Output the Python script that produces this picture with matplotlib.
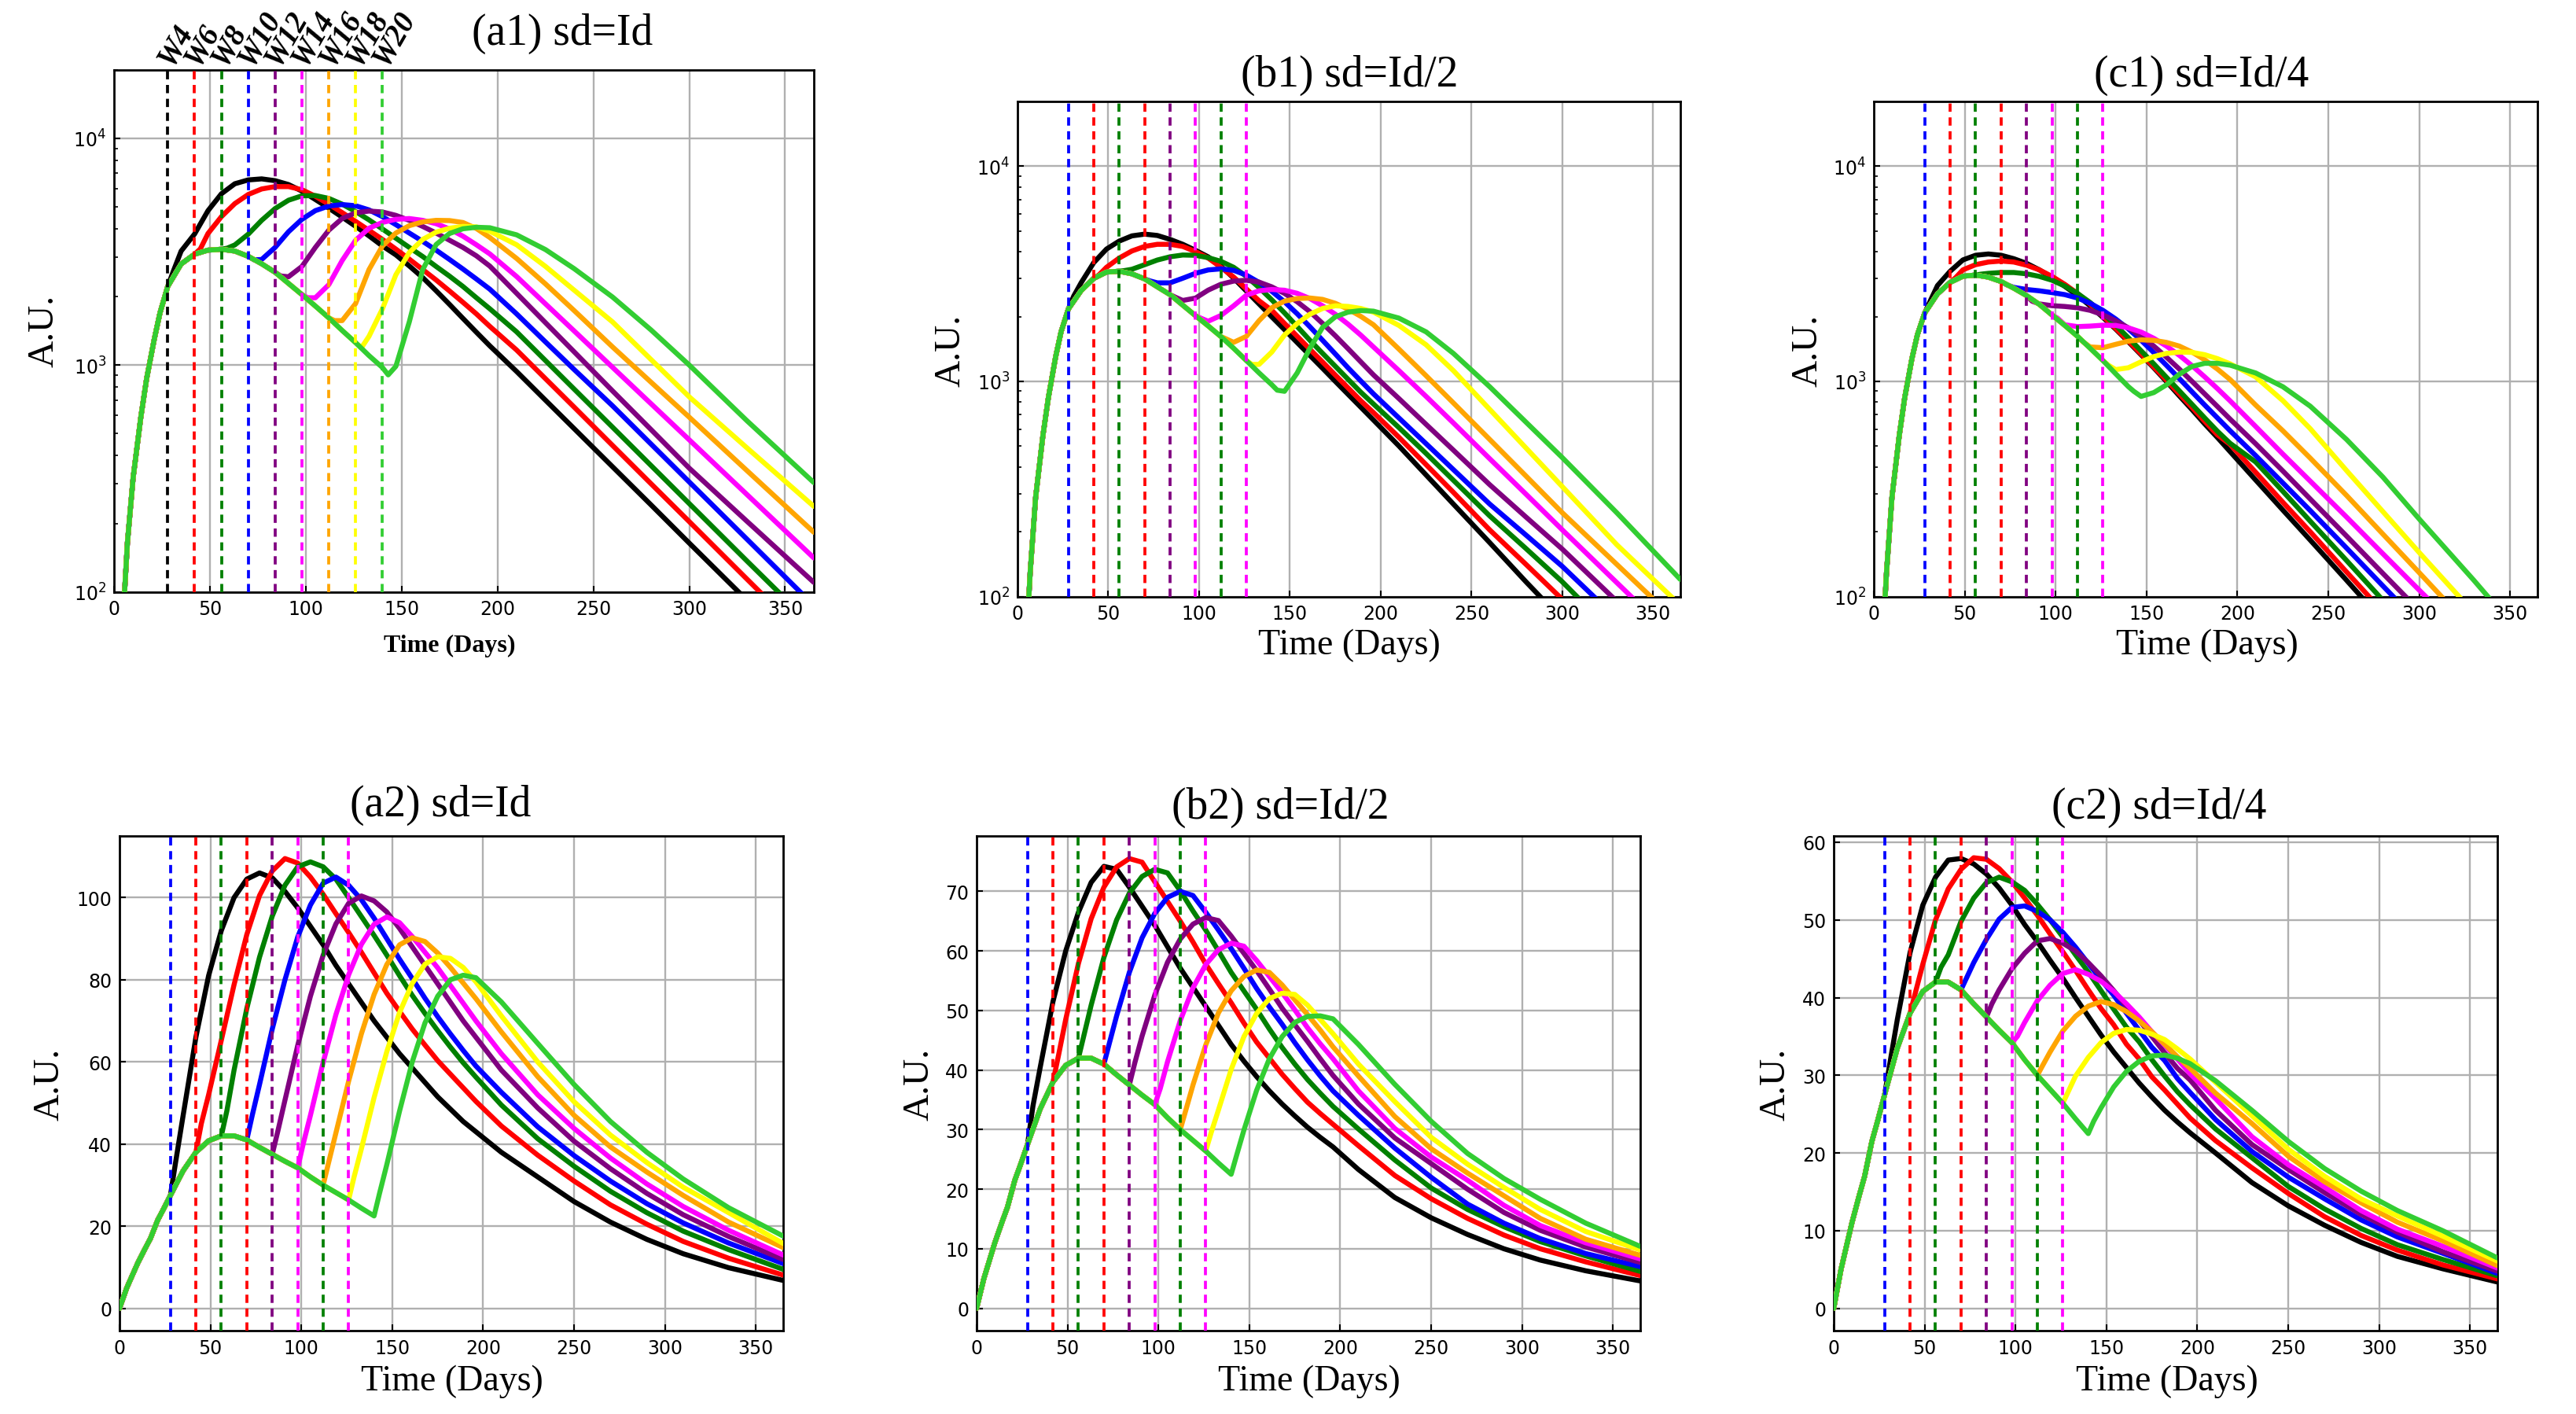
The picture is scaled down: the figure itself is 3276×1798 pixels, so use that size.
import matplotlib
matplotlib.use("Agg")
import matplotlib.pyplot as plt
from matplotlib.transforms import blended_transform_factory

# ---------------- shared grids / labels ----------------
DAYS1 = [0, 2, 4, 7, 10, 14, 17, 21, 24, 28, 35, 42, 49, 56, 63, 70, 77, 84, 91, 98,
         105, 112, 119, 126, 133, 140, 147, 154, 161, 168, 175, 182, 189, 196,
         210, 225, 240, 260, 280, 300, 330, 365]
DAYS2 = DAYS1[:34] + [210, 230, 250, 270, 290, 310, 335, 365]
BOOST_DAYS = [28, 42, 56, 70, 84, 98, 112, 126, 140]
WEEK_LABELS = ["W4", "W6", "W8", "W10", "W12", "W14", "W16", "W18", "W20"]
CURVE_COLORS = ["black", "red", "green", "blue", "purple", "magenta", "orange", "yellow", "limegreen"]
DASH_DAYS = [28, 42, 56, 70, 84, 98, 112, 126]
DASH_COLORS = ["blue", "red", "green", "red", "purple", "magenta", "green", "magenta"]
X_TICKS = [0, 50, 100, 150, 200, 250, 300, 350]

# ---------------- (a1) sd=Id, log scale ----------------
a1_base = [5, 25, 60, 165, 320, 590, 870, 1300, 1700, 2220, 2790, 3080, 3210, 3240, 3180, 3015,
           2795, 2565, 2290, 2045, 1820, 1615, 1420, 1255, 1100, 975]
a1_d3 = [2600, 3250, 3275, 2910, 2470, 1980, 1570, 1190, 905]
a1_black = [3180, 3780, 4790, 5690, 6300, 6550, 6620, 6500, 6250, 5850, 5370, 4920, 4490, 4090, 3710,
            3350, 3060, 2735, 2430, 2125, 1850, 1605, 1395, 1215, 936, 700, 524, 356, 242, 164, 92, 46]
a1_red = [3800, 4510, 5150, 5650, 5975, 6120, 6120, 5930, 5550, 5120, 4700, 4300, 3925, 3580, 3245,
          2930, 2636, 2371, 2120, 1890, 1680, 1480, 1164, 871, 652, 442, 300, 204, 114, 58]
a1_green = [3385, 3775, 4345, 4895, 5330, 5575, 5590, 5430, 5120, 4750, 4365, 3980, 3625, 3300, 3010,
            2720, 2465, 2220, 1980, 1770, 1400, 1047, 783, 532, 361, 245, 137, 70]
a1_blue = [2920, 3300, 3870, 4390, 4795, 5025, 5100, 5040, 4830, 4510, 4160, 3820, 3510, 3210, 2920,
           2650, 2395, 2160, 1680, 1265, 955, 661, 449, 305, 171, 87]
a1_purple = [2450, 2720, 3300, 3930, 4430, 4690, 4775, 4730, 4570, 4345, 4085, 3820, 3550, 3300, 3030,
             2730, 2070, 1538, 1143, 769, 520, 351, 205, 110]
a1_magenta = [1980, 2260, 2890, 3550, 4010, 4255, 4390, 4425, 4345, 4200, 3980, 3700, 3390, 3090,
              2455, 1862, 1413, 977, 676, 468, 269, 141]
a1_orange = [1570, 1866, 2636, 3350, 3820, 4117, 4277, 4345, 4335, 4250, 4000, 3650,
             2950, 2280, 1738, 1202, 841, 589, 343, 183]
a1_yellow = [1339, 1770, 2500, 3135, 3580, 3855, 4010, 4085, 4065, 3890,
             3390, 2723, 2138, 1549, 1059, 724, 432, 238]
a1_lime = [987, 1549, 2636, 3398, 3802, 3990, 4050, 4030, 3750, 3230, 2660, 1995, 1430, 1000, 569, 303]

# ---------------- (b1) sd=Id/2, log scale ----------------
b1_base = [4, 18, 45, 130, 290, 560, 840, 1300, 1700, 2170, 2640, 3010, 3220, 3250, 3160, 2995,
           2750, 2530, 2260, 2020, 1810, 1615, 1425, 1250, 1095, 965]
b1_d3 = [2495, 3133, 3274, 2930, 2460, 1966, 1574, 1199, 910]
b1_black = [2870, 3565, 4120, 4487, 4745, 4835, 4765, 4570, 4335, 4065, 3790, 3430, 3020, 2630, 2290,
            1995, 1740, 1515, 1320, 1150, 1000, 871, 759, 661, 501, 367, 269, 178, 117, 78, 42, 20]
b1_red = [3389, 3742, 4037, 4238, 4335, 4335, 4238, 4010, 3742, 3389, 3055, 2690, 2370, 2140, 1860,
          1620, 1410, 1230, 1070, 933, 813, 716, 550, 410, 305, 204, 141, 97, 52, 25]
b1_green = [3319, 3485, 3664, 3793, 3866, 3855, 3758, 3614, 3390, 3077, 2729, 2393, 2081, 1799, 1552,
            1349, 1175, 1023, 891, 785, 610, 462, 347, 237, 167, 117, 65, 33]
b1_blue = [2870, 2870, 3015, 3178, 3296, 3334, 3281, 3119, 2884, 2623, 2344, 2061, 1794, 1552, 1341,
           1156, 1005, 875, 676, 513, 389, 269, 193, 138, 79, 41]
b1_purple = [2377, 2438, 2655, 2827, 2924, 2951, 2893, 2750, 2564, 2344, 2108, 1858, 1630, 1419, 1233,
             1072, 832, 631, 479, 331, 234, 166, 95, 50]
b1_magenta = [1903, 2024, 2244, 2514, 2636, 2673, 2652, 2566, 2426, 2244, 2051, 1845, 1641, 1445,
              1122, 851, 641, 437, 299, 204, 116, 60]
b1_orange = [1518, 1618, 1914, 2200, 2360, 2427, 2440, 2404, 2306, 2167, 2006, 1833,
             1413, 1062, 794, 537, 363, 245, 141, 74]
b1_yellow = [1199, 1368, 1641, 1858, 2051, 2182, 2245, 2230, 2182, 2099,
             1820, 1479, 1122, 741, 490, 324, 174, 91]
b1_lime = [899, 1094, 1426, 1782, 1995, 2098, 2134, 2120, 1968, 1698, 1349, 944, 646, 442, 245, 120]

# ---------------- (c1) sd=Id/4, log scale ----------------
c1_base = [4, 18, 45, 130, 290, 560, 840, 1280, 1650, 2080, 2550, 2885, 3080, 3120, 3050, 2910,
           2710, 2505, 2280, 2035, 1820, 1620, 1425, 1250, 1085, 945]
c1_d3 = [2360, 3034, 3150, 2812, 2360, 1968, 1529, 1189, 899]
c1_black = [2786, 3250, 3668, 3856, 3909, 3856, 3716, 3537, 3300, 3033, 2766, 2508, 2243, 1983, 1750,
            1528, 1329, 1156, 997, 857, 739, 634, 548, 471, 348, 252, 183, 119, 77, 50, 26, 12]
c1_red = [3298, 3487, 3586, 3625, 3586, 3467, 3298, 3076, 2826, 2563, 2281, 2010, 1762, 1541, 1341,
          1166, 1011, 874, 757, 652, 564, 509, 378, 274, 200, 130, 85, 56, 29, 14]
c1_green = [3177, 3206, 3206, 3162, 3076, 2951, 2775, 2565, 2325, 2069, 1823, 1595, 1387, 1206, 1043,
            904, 782, 676, 586, 515, 422, 308, 224, 147, 96, 63, 33, 16]
c1_blue = [2735, 2673, 2636, 2586, 2531, 2440, 2306, 2139, 1950, 1754, 1552, 1360, 1186, 1031, 894,
           776, 676, 589, 452, 337, 251, 168, 112, 75, 41, 20]
c1_purple = [2291, 2248, 2229, 2198, 2138, 2037, 1913, 1774, 1617, 1459, 1294, 1141, 1000, 874, 764,
             667, 513, 383, 284, 191, 128, 86, 48, 24]
c1_magenta = [1833, 1797, 1807, 1824, 1819, 1774, 1695, 1585, 1458, 1322, 1183, 1049, 925, 811,
              617, 459, 344, 234, 158, 107, 60, 30]
c1_orange = [1445, 1434, 1486, 1538, 1559, 1552, 1517, 1459, 1368, 1259, 1140, 1019,
             776, 589, 440, 295, 195, 129, 69, 34]
c1_yellow = [1134, 1157, 1233, 1304, 1349, 1368, 1364, 1330, 1275, 1206,
             1049, 813, 603, 385, 248, 160, 84, 40]
c1_lime = [851, 887, 964, 1079, 1173, 1213, 1213, 1189, 1094, 944, 767, 537, 359, 229, 119, 54]

# ---------------- row 2 (linear scale) ----------------
row2_base = [0, 2.5, 5, 8, 11, 14.5, 17, 21.5, 24, 27.5, 33.5, 38, 40.8, 42, 42, 41, 39.2, 37.5,
             35.8, 34.2, 32, 30, 28.2, 26.4, 24.4, 22.5]

a2_d3 = [36, 45, 48, 47, 43, 40, 35.5, 32, 28]
a2_black = [47, 66, 81, 92, 100, 104.5, 106, 104.8, 101.5, 97.5, 93, 88.5, 83.5, 79, 74.5, 70, 66, 62,
            58.5, 55, 51.5, 48.5, 45.5, 43, 38, 32, 26, 21, 16.8, 13.3, 9.9, 6.8]
a2_red = [52, 65.3, 78.8, 91, 100.5, 106.5, 109.5, 108.4, 105, 100.8, 96.1, 91.5, 86.7, 81.7, 76.7,
          72.3, 68, 64.1, 60.3, 57, 53.7, 50.4, 44.4, 37.3, 31, 25.2, 20.5, 16.3, 12.2, 8.1]
a2_green = [58, 73, 85.5, 95.5, 103, 107.5, 108.7, 107.5, 104.5, 100, 95.4, 90.8, 86, 81, 76.2, 71.8,
            67.6, 63.6, 59.8, 56.3, 49.5, 41.3, 34.6, 28.5, 23.3, 18.8, 14.3, 9.5]
a2_blue = [54.5, 68, 80, 90.4, 98.2, 103.5, 105, 103, 99.5, 95, 90, 85, 80.3, 75.5, 71, 66.8, 62.8, 59,
           52.6, 44.2, 37.2, 31, 25.5, 20.8, 15.9, 10.9]
a2_purple = [50.7, 64, 76, 86, 93.6, 98.6, 100.4, 99.2, 96.5, 92.5, 88, 83.5, 79, 74.5, 70, 66,
             58, 48.8, 40.7, 34, 28, 22.8, 17.5, 11.9]
a2_magenta = [47, 59.9, 71.5, 81.2, 88.6, 93.5, 95.3, 93.9, 90.5, 86.7, 82.9, 78.6, 74.3, 70,
              62, 52, 43.8, 36.6, 30.3, 24.8, 19, 13]
a2_orange = [42.7, 55.3, 66.8, 76.4, 83.7, 88.5, 90.2, 89.3, 86.5, 83, 79.2, 75.4,
             67.3, 56.4, 47, 39.3, 33.2, 27.5, 21, 14.8]
a2_yellow = [38.8, 51.3, 62.5, 72, 79.1, 83.8, 85.6, 85.2, 83, 79.5, 71.2, 60, 50.3, 42.2, 35.5, 29.5, 23.3, 15.8]
a2_lime = [35, 48, 60, 69.5, 76, 80, 81.1, 80.5, 74.6, 64.5, 54.5, 45.5, 38, 31.5, 24.5, 17.6]

b2_d3 = [34, 42.4, 45.8, 44.5, 41.2, 36.9, 33.2, 29.5, 25.7]
b2_black = [40.5, 51.5, 60, 66.5, 71.5, 74.2, 73.7, 70.7, 67.5, 64.3, 60.7, 57.1, 53.9, 50.7, 47.5, 44.3,
            41.5, 38.9, 36.5, 34.3, 32.3, 30.4, 28.7, 27.1, 23.3, 18.6, 15.2, 12.4, 10.0, 8.1, 6.3, 4.6]
b2_red = [48.5, 57.9, 65.4, 70.7, 74.1, 75.5, 74.9, 71.6, 68.3, 65.0, 61.5, 57.8, 54.5, 51.3, 47.9, 44.7,
          42.0, 39.3, 36.9, 34.6, 32.7, 30.9, 27.3, 22.3, 18.4, 15.1, 12.3, 10.0, 7.8, 5.5]
b2_green = [50.9, 58.9, 65.2, 69.7, 72.5, 73.7, 73.1, 70.1, 66.7, 63.5, 60, 56.4, 53.3, 50.2, 46.9, 43.8,
            41, 38.4, 36.1, 33.9, 30.1, 24.9, 20.2, 16.6, 13.7, 11.2, 8.8, 6.2]
b2_blue = [49.1, 56.4, 62.2, 66.3, 69, 70.0, 69.3, 66.5, 63.5, 60.4, 57.1, 53.7, 50.6, 47.7, 44.6, 41.7,
           39.0, 36.5, 32.4, 26.9, 22.0, 17.5, 14.3, 11.7, 9.2, 7.0]
b2_purple = [45.7, 52.6, 58.1, 62, 64.5, 65.6, 65.1, 62.5, 59.6, 56.7, 53.6, 50.4, 47.6, 44.8, 41.9, 39.1,
             34.3, 28.6, 24.3, 20.0, 16.1, 13.1, 10.3, 7.7]
b2_magenta = [41.4, 48.3, 53.8, 57.7, 60.2, 61.3, 60.8, 58.4, 55.7, 53, 50.1, 47.1, 44.4, 41.9,
              36.5, 30.2, 25.4, 21.5, 17.3, 13.9, 11.0, 8.3]
b2_orange = [37.5, 44.2, 49.6, 53.3, 55.7, 56.8, 56.4, 54.3, 51.8, 49.3, 46.7, 43.9,
             39.0, 32.2, 26.8, 22.7, 18.9, 15.1, 11.6, 8.9]
b2_yellow = [33.3, 40.1, 45.6, 49.5, 52.0, 52.9, 52.7, 50.9, 48.5, 46.1, 41, 34.7, 28.7, 24.2, 20.3, 16.6, 12.9, 9.8]
b2_lime = [29.9, 36.6, 41.9, 45.6, 48, 49, 49.1, 48.6, 44.3, 37.6, 31.4, 26, 21.8, 18.3, 14.3, 10.4]

c2_d3 = [31.7, 40.7, 43.9, 42.5, 39.2, 35, 31.3, 27.9, 24.1]
c2_black = [37.2, 45.8, 51.9, 55.5, 57.7, 57.9, 57.2, 55.9, 54.1, 51.9, 49.4, 47.2, 44.8, 42.5, 40, 37.6,
            35.2, 33.0, 31.0, 29.0, 27.2, 25.5, 24.0, 22.6, 20.0, 16.2, 13.2, 10.7, 8.5, 6.7, 5.1, 3.4]
c2_red = [44.3, 50, 54, 56.5, 58.0, 57.8, 56.6, 54.9, 52.8, 50.6, 48.2, 45.9, 43.5, 41, 38.6, 36.5,
          34, 32.1, 29.8, 28.1, 26.3, 24.5, 21.6, 18.1, 14.8, 11.8, 9.4, 7.5, 5.6, 3.8]
c2_green = [45.5, 49.8, 52.8, 54.8, 55.5, 54.9, 53.8, 52, 50, 47.8, 45.5, 43.3, 40.9, 38.5, 36.2, 34.3,
            32, 29.9, 27.9, 26.2, 23.1, 19.4, 15.7, 12.8, 10.3, 8.2, 6.3, 4.2]
c2_blue = [44.5, 47.5, 50.1, 51.6, 51.8, 51.1, 50, 48.4, 46.5, 44.4, 42.3, 40.3, 38, 35.8, 33.6, 31.9,
           29.6, 27.8, 24.3, 20.2, 16.9, 14.1, 11.4, 9.2, 7.1, 4.5]
c2_purple = [41, 43.7, 45.7, 47.3, 47.6, 47, 46, 44.5, 42.8, 40.9, 38.9, 37.1, 35, 32.9, 30.9, 29.4,
             25.5, 21.1, 17.9, 14.9, 12.1, 9.8, 7.3, 4.8]
c2_magenta = [36.8, 39.6, 41.6, 43.1, 43.6, 43, 42.1, 40.8, 39.2, 37.5, 35.6, 33.9, 32.1, 30.2,
              27, 22.1, 18.5, 15.6, 12.6, 10.2, 8.0, 5.2]
c2_orange = [33, 35.7, 37.6, 38.9, 39.5, 39.1, 38.2, 37, 35.6, 34, 32.4, 30.9,
             27.7, 23.8, 19.6, 16.3, 13.6, 11.1, 8.7, 5.5]
c2_yellow = [29.9, 32.3, 34.2, 35.4, 35.9, 35.8, 35.3, 34.6, 33.4, 32.1, 29.1, 24.8, 20.5, 17, 14.1, 11.9, 9.3, 6.1]
c2_lime = [25.8, 28.5, 30.5, 31.8, 32.5, 32.6, 32.2, 31.5, 29.3, 25.5, 21.5, 18, 15.1, 12.6, 10, 6.5]

# ---------------- figure ----------------
W, H = 3276, 1799
fig = plt.figure(figsize=(W / 100, H / 100), dpi=100)
SERIF = ["Liberation Serif", "DejaVu Serif"]


def px_rect(x0, y0, x1, y1):
    return [x0 / W, 1 - y1 / H, (x1 - x0) / W, (y1 - y0) / H]


def build_curves(days, base, d3, posts):
    out = []
    for b, dv, post in zip(BOOST_DAYS, d3, posts):
        i = days.index(b)
        x = days[:i + 1] + [b + 3] + days[i + 1:]
        y = list(base[:i + 1]) + [dv] + list(post)
        n = min(len(x), len(y))
        out.append((x[:n], y[:n]))
    return out


panels = [
    dict(rect=(145, 90, 1035, 753.5), days=DAYS1, base=a1_base, d3=a1_d3,
         posts=[a1_black, a1_red, a1_green, a1_blue, a1_purple, a1_magenta, a1_orange, a1_yellow, a1_lime],
         log=True, ylim=(100, 2e4), yticks=None,
         title="(a1) sd=Id", tpos=(715, 43), ylpos=(56, 421), xlpos=(572, 821), xlbold=True,
         dashes=(BOOST_DAYS, CURVE_COLORS), weeks=True),
    dict(rect=(1294, 130, 2137, 759.5), days=DAYS1, base=b1_base, d3=b1_d3,
         posts=[b1_black, b1_red, b1_green, b1_blue, b1_purple, b1_magenta, b1_orange, b1_yellow, b1_lime],
         log=True, ylim=(100, 2e4), yticks=None,
         title="(b1) sd=Id/2", tpos=(1716, 96), ylpos=(1209, 446), xlpos=(1716, 821), xlbold=False,
         dashes=(DASH_DAYS, DASH_COLORS), weeks=False),
    dict(rect=(2383, 130, 3227, 759.5), days=DAYS1, base=c1_base, d3=c1_d3,
         posts=[c1_black, c1_red, c1_green, c1_blue, c1_purple, c1_magenta, c1_orange, c1_yellow, c1_lime],
         log=True, ylim=(100, 2e4), yticks=None,
         title="(c1) sd=Id/4", tpos=(2800, 96), ylpos=(2299, 446), xlpos=(2807, 821), xlbold=False,
         dashes=(DASH_DAYS, DASH_COLORS), weeks=False),
    dict(rect=(152, 1064, 996, 1693.4), days=DAYS2, base=row2_base, d3=a2_d3,
         posts=[a2_black, a2_red, a2_green, a2_blue, a2_purple, a2_magenta, a2_orange, a2_yellow, a2_lime],
         log=False, ylim=(-5.5, 115), yticks=[0, 20, 40, 60, 80, 100],
         title="(a2) sd=Id", tpos=(560, 1024), ylpos=(63, 1379), xlpos=(575, 1757), xlbold=False,
         dashes=(DASH_DAYS, DASH_COLORS), weeks=False),
    dict(rect=(1242, 1064, 2086, 1693.4), days=DAYS2, base=row2_base, d3=b2_d3,
         posts=[b2_black, b2_red, b2_green, b2_blue, b2_purple, b2_magenta, b2_orange, b2_yellow, b2_lime],
         log=False, ylim=(-3.8, 79.3), yticks=[0, 10, 20, 30, 40, 50, 60, 70],
         title="(b2) sd=Id/2", tpos=(1628, 1027), ylpos=(1169, 1379), xlpos=(1665, 1757), xlbold=False,
         dashes=(DASH_DAYS, DASH_COLORS), weeks=False),
    dict(rect=(2332, 1064, 3176, 1693.4), days=DAYS2, base=row2_base, d3=c2_d3,
         posts=[c2_black, c2_red, c2_green, c2_blue, c2_purple, c2_magenta, c2_orange, c2_yellow, c2_lime],
         log=False, ylim=(-2.9, 60.8), yticks=[0, 10, 20, 30, 40, 50, 60],
         title="(c2) sd=Id/4", tpos=(2746, 1027), ylpos=(2258, 1379), xlpos=(2756, 1757), xlbold=False,
         dashes=(DASH_DAYS, DASH_COLORS), weeks=False),
]

for p in panels:
    ax = fig.add_axes(px_rect(*p["rect"]))
    if p["log"]:
        ax.set_yscale("log")
    curves = build_curves(p["days"], p["base"], p["d3"], p["posts"])
    for (x, y), c in zip(curves, CURVE_COLORS):
        ax.plot(x, y, color=c, lw=4.6, solid_joinstyle="round", solid_capstyle="round", zorder=3)
    dd, dc = p["dashes"]
    for d, c in zip(dd, dc):
        ax.axvline(d, color=c, lw=2.7, ls=(0, (2.8, 1.9)), zorder=4)
    ax.set_xlim(0, 365)
    ax.set_ylim(*p["ylim"])
    ax.set_xticks(X_TICKS)
    if p["yticks"] is not None:
        ax.set_yticks(p["yticks"])
    ax.grid(True, which="major", color="#b0b0b0", lw=1.7, zorder=0)
    ax.set_axisbelow(True)
    ax.tick_params(which="major", direction="in", length=6, width=1.5, labelsize=17, pad=7)
    ax.tick_params(which="minor", direction="in", length=3.5, width=1.2)
    for s in ax.spines.values():
        s.set_linewidth(2.0)
        s.set_color("black")

    fig.text(p["tpos"][0] / W, 1 - p["tpos"][1] / H, p["title"], ha="center", va="center",
             fontsize=40, family=SERIF)
    fig.text(p["ylpos"][0] / W, 1 - p["ylpos"][1] / H, "A.U.", ha="center", va="center",
             rotation=90, fontsize=34, family=SERIF)
    if p["xlbold"]:
        fig.text(p["xlpos"][0] / W, 1 - p["xlpos"][1] / H, "Time (Days)", ha="center", va="center",
                 fontsize=23, fontweight="bold", family=SERIF)
    else:
        fig.text(p["xlpos"][0] / W, 1 - p["xlpos"][1] / H, "Time (Days)", ha="center", va="center",
                 fontsize=33, family=SERIF)

    if p["weeks"]:
        tr = blended_transform_factory(ax.transData, ax.transAxes)
        for d, lab in zip(BOOST_DAYS, WEEK_LABELS):
            ax.text(d + 2, 1.005, lab, transform=tr, rotation=60, rotation_mode="anchor",
                    ha="left", va="baseline", fontsize=28, fontweight="bold", fontstyle="italic",
                    family=SERIF, clip_on=False)

fig.savefig("out.png", dpi=100)
